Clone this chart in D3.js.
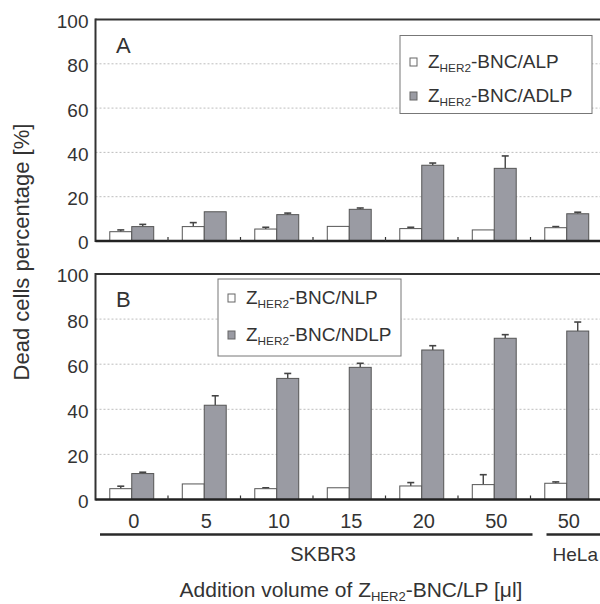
<!DOCTYPE html>
<html>
<head>
<meta charset="utf-8">
<script src="https://cdn.jsdelivr.net/npm/d3@7"></script>
<style>
  body { margin: 0; background: #fff; }
  svg { display: block; font-family: Arial, "Liberation Sans", sans-serif; }
</style>
</head>
<body>
<svg id="chart" width="600" height="604"></svg>
<script>
// categories (addition volume, ul) - last one is HeLa
const volumes = ['0', '5', '10', '15', '20', '50', '50']
const yTicks = [0, 20, 40, 60, 80, 100]

// panel A
const aPlain = [4.2, 6.5, 5.4, 6.6, 5.6, 5.0, 6.0]
const aPlainErr = [0.8, 1.8, 0.8, 0, 0.6, 0, 0.5]
const aDL = [6.5, 13.2, 11.9, 14.3, 34.2, 32.8, 12.3]
const aDLErr = [1.0, 0, 0.7, 0.6, 1.0, 5.6, 0.7]

// panel B
const bPlain = [4.8, 6.9, 4.8, 5.2, 6.0, 6.6, 7.2]
const bPlainErr = [1.1, 0, 0.4, 0, 1.5, 4.4, 0.6]
const bDL = [11.5, 41.8, 53.7, 58.6, 66.3, 71.5, 74.7]
const bDLErr = [0.6, 4.2, 2.2, 1.8, 1.9, 1.6, 4.0]

const svg = d3.select('#chart')
const ink = '#333'
const grayFill = '#9a9ba3'

const x = d3.scaleBand().domain(d3.range(volumes.length)).range([95.5, 603])
const sub = d3.scaleBand().domain(['plain', 'dl']).range([0, x.bandwidth()]).paddingOuter(0.65)

function subText (sel, pre, s, post) {
    sel.append('tspan').text(pre)
    sel.append('tspan').attr('font-size', '0.62em').attr('dy', '0.32em').text(s)
    sel.append('tspan').attr('dy', '-0.2em').text(post)
}

function drawPanel (cfg) {
    const y = d3.scaleLinear().domain([0, 100]).range([cfg.base, cfg.top])
    const g = svg.append('g')

    // gridlines
    g.selectAll('.grid').data([20, 40, 60, 80]).join('line')
        .attr('x1', x.range()[0]).attr('x2', x.range()[1])
        .attr('y1', d => y(d)).attr('y2', d => y(d))
        .attr('stroke', '#b5b5b5').attr('stroke-width', 0.9)
        .attr('stroke-dasharray', '2,2')

    // y axis labels
    const ax = g.append('g')
        .attr('transform', `translate(${x.range()[0]},0)`)
        .call(d3.axisLeft(y).tickValues(yTicks).tickSize(0).tickPadding(7))
    ax.select('.domain').remove()
    ax.selectAll('text')
        .attr('font-size', 19).attr('fill', ink)
        .attr('font-family', 'Arial, "Liberation Sans", sans-serif')
        .attr('dy', '0.42em')

    // bars
    const series = [
        { key: 'plain', vals: cfg.plain, err: cfg.plainErr, fill: '#fff' },
        { key: 'dl', vals: cfg.dl, err: cfg.dlErr, fill: grayFill }
    ]
    series.forEach(s => {
        const gx = i => x(i) + sub(s.key)
        // error bars (upper only)
        const eb = g.append('g')
        s.vals.forEach((v, i) => {
            if (!s.err[i]) return
            const cx = gx(i) + sub.bandwidth() / 2
            eb.append('line')
                .attr('x1', cx).attr('x2', cx)
                .attr('y1', y(v)).attr('y2', y(v + s.err[i]))
                .attr('stroke', '#444').attr('stroke-width', 1.4)
            eb.append('line')
                .attr('x1', cx - 3.5).attr('x2', cx + 3.5)
                .attr('y1', y(v + s.err[i])).attr('y2', y(v + s.err[i]))
                .attr('stroke', '#444').attr('stroke-width', 1.6)
        })
        g.selectAll('.bar-' + s.key).data(s.vals).join('rect')
            .attr('x', (d, i) => gx(i))
            .attr('y', d => y(d))
            .attr('width', sub.bandwidth())
            .attr('height', d => y(0) - y(d))
            .attr('fill', s.fill)
            .attr('stroke', '#555').attr('stroke-width', 1)
    })

    // frame: top, left, baseline
    g.append('line').attr('x1', x.range()[0]).attr('x2', 603)
        .attr('y1', y(100)).attr('y2', y(100))
        .attr('stroke', '#333').attr('stroke-width', 2)
    g.append('line').attr('x1', x.range()[0]).attr('x2', x.range()[0])
        .attr('y1', y(100) - 1).attr('y2', y(0) + 1)
        .attr('stroke', '#333').attr('stroke-width', 2)
    g.append('line').attr('x1', x.range()[0]).attr('x2', 603)
        .attr('y1', y(0)).attr('y2', y(0))
        .attr('stroke', '#222').attr('stroke-width', 2.4)

    // small ticks between groups
    g.selectAll('.gtick').data(d3.range(1, volumes.length)).join('line')
        .attr('x1', d => x(d)).attr('x2', d => x(d))
        .attr('y1', y(0)).attr('y2', y(0) - 4)
        .attr('stroke', '#333').attr('stroke-width', 1.2)

    // panel letter
    g.append('text').attr('x', 116).attr('y', cfg.letterY)
        .attr('font-size', 22).attr('fill', ink).text(cfg.letter)

    // legend
    const lg = g.append('g')
    lg.append('rect')
        .attr('x', cfg.legend.x).attr('y', cfg.legend.y)
        .attr('width', cfg.legend.w).attr('height', cfg.legend.h)
        .attr('fill', '#fff').attr('stroke', '#777').attr('stroke-width', 1)
    cfg.legend.items.forEach((name, k) => {
        const cy = cfg.legend.rows[k]
        lg.append('rect')
            .attr('x', cfg.legend.x + 10).attr('y', cy - 4)
            .attr('width', 7).attr('height', 8)
            .attr('fill', series[k].fill).attr('stroke', '#666').attr('stroke-width', 1)
        const t = lg.append('text')
            .attr('x', cfg.legend.x + 28).attr('y', cy + 6)
            .attr('font-size', 19).attr('fill', ink)
        subText(t, 'Z', 'HER2', '-BNC/' + name)
    })
}

drawPanel({
    top: 19.5, base: 241, letter: 'A', letterY: 52.5,
    plain: aPlain, plainErr: aPlainErr, dl: aDL, dlErr: aDLErr,
    legend: { x: 400, y: 35.5, w: 192, h: 78, rows: [62, 96], items: ['ALP', 'ADLP'] }
})

drawPanel({
    top: 274, base: 499.5, letter: 'B', letterY: 306.5,
    plain: bPlain, plainErr: bPlainErr, dl: bDL, dlErr: bDLErr,
    legend: { x: 218, y: 279, w: 183, h: 77, rows: [298, 335], items: ['NLP', 'NDLP'] }
})

// x tick labels (under panel B)
svg.append('g').selectAll('text').data(volumes).join('text')
    .attr('x', (d, i) => x(i) + x.bandwidth() / 2 + 2)
    .attr('y', 528)
    .attr('text-anchor', 'middle')
    .attr('font-size', 20).attr('fill', ink)
    .text(d => d)

// cell line brackets
const cellLines = [
    { name: 'SKBR3', from: 0, to: 5, labelX: 323, anchor: 'middle', size: 20 },
    { name: 'HeLa', from: 6, to: 6, labelX: 598, anchor: 'end', size: 19 }
]
cellLines.forEach(c => {
    const x1 = c.from === 0 ? 100 : x(c.from) + 16
    const x2 = c.to === volumes.length - 1 ? 603 : x(c.to) + x.bandwidth() + 2
    svg.append('line').attr('x1', x1).attr('x2', x2)
        .attr('y1', 534.5).attr('y2', 534.5)
        .attr('stroke', '#2a2a2a').attr('stroke-width', 2.6)
    svg.append('text').attr('x', c.labelX).attr('y', 561)
        .attr('text-anchor', c.anchor)
        .attr('font-size', c.size).attr('fill', ink).text(c.name)
})

// axis titles
const xt = svg.append('text').attr('x', 351).attr('y', 597)
    .attr('text-anchor', 'middle').attr('font-size', 21).attr('fill', ink)
subText(xt, 'Addition volume of Z', 'HER2', '-BNC/LP [\u03bcl]')

svg.append('text')
    .attr('transform', 'translate(29,252) rotate(-90)')
    .attr('text-anchor', 'middle').attr('font-size', 22).attr('fill', ink)
    .text('Dead cells percentage [%]')
</script>
</body>
</html>
